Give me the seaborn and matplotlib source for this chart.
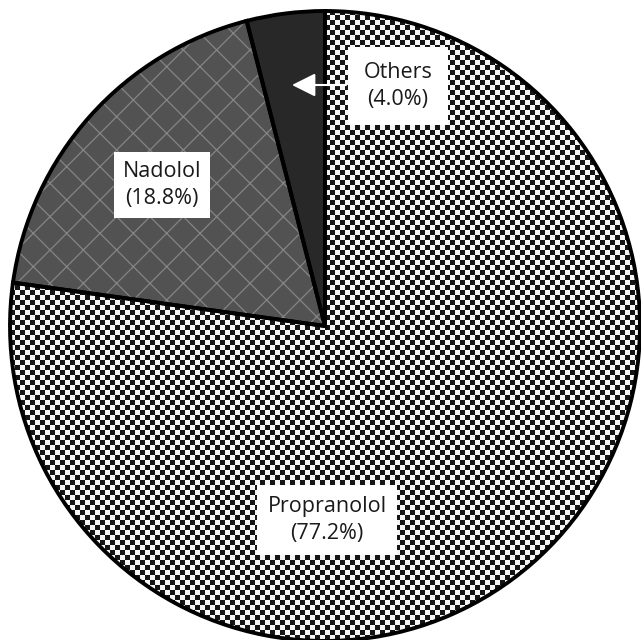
import numpy as np
import matplotlib
matplotlib.use("Agg")
import matplotlib.pyplot as plt
from matplotlib.colors import ListedColormap
from matplotlib.patches import PathPatch
import seaborn as sns

# Share of prescriptions by drug
drugs = ["Propranolol", "Nadolol", "Others"]
shares = [77.2, 18.8, 4.0]

sns.set_theme(style="white")
plt.rcParams["font.family"] = ["Open Sans", "DejaVu Sans"]
plt.rcParams["hatch.linewidth"] = 0.9

W, H, DPI = 641, 640, 100
fig = plt.figure(figsize=(W / DPI, H / DPI), dpi=DPI)
ax = fig.add_axes([0, 0, 1, 1])

# pie centre and radius in pixels
cx, cy, R = 325, 326, 315


def to_data(x, y):
    return ((x - cx) / R, (cy - y) / R)


def set_limits():
    ax.set_xlim(-cx / R, (W - cx) / R)
    ax.set_ylim(-(H - cy) / R, cy / R)
    ax.set_aspect("equal")


wedges, _ = ax.pie(
    shares,
    startangle=90,
    counterclock=False,
    radius=1,
    colors=["none", "#525252", "#282828"],
    wedgeprops=dict(linewidth=0),
)
set_limits()

# checkerboard fill for Propranolol
cell = 5
nx, ny = int(np.ceil(W / cell)), int(np.ceil(H / cell))
checker = np.add.outer(np.arange(ny), np.arange(nx)) % 2
x0, _x1 = ax.get_xlim()
_y0, y1 = ax.get_ylim()
img = ax.imshow(
    checker,
    cmap=ListedColormap(["#141414", "#f6f6f6"]),
    extent=(x0, x0 + nx * cell / R, y1 - ny * cell / R, y1),
    origin="upper",
    interpolation="nearest",
    zorder=2,
)
img.set_clip_path(wedges[0])

# diamond hatch over Nadolol
w = wedges[1]
ax.add_patch(PathPatch(w.get_path(), transform=w.get_transform(),
                       facecolor="none", edgecolor="#858585", hatch="x",
                       linewidth=0, zorder=2))

# black outlines on every slice
for w in wedges:
    ax.add_patch(PathPatch(w.get_path(), transform=w.get_transform(),
                           fill=False, edgecolor="black", linewidth=2.8,
                           joinstyle="miter", zorder=4))

set_limits()
ax.set_axis_off()

labels = [f"{d}\n({s:.1f}%)" for d, s in zip(drugs, shares)]
label_pos = [(327, 520), (162, 185), (398, 86)]
label_pad = [0.5, 0.42, 0.7]
for text, (lx, ly), pad in zip(labels, label_pos, label_pad):
    ax.text(*to_data(lx, ly), text, ha="center", va="center",
            fontsize=15.5, color="#1a1a1a", linespacing=1.4, zorder=5,
            bbox=dict(boxstyle=f"square,pad={pad}", fc="white", ec="none"))

ax.annotate("", xy=to_data(292, 85), xytext=to_data(346, 85),
            arrowprops=dict(arrowstyle="-|>,head_length=0.4,head_width=0.2",
                            color="white", lw=1.5, mutation_scale=36,
                            shrinkA=0, shrinkB=0),
            zorder=4.5)

fig.savefig("out.png", dpi=DPI)
